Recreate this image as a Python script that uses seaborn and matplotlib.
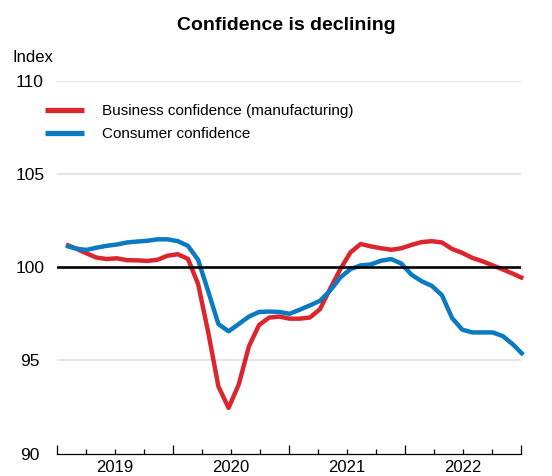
import numpy as np
import pandas as pd
import matplotlib
matplotlib.use("Agg")
import matplotlib.pyplot as plt
import seaborn as sns
from matplotlib.ticker import FixedLocator, FixedFormatter, NullFormatter

# ---- data ----
business = [101.22, 101.0, 100.75, 100.52, 100.44, 100.48, 100.38, 100.37, 100.34, 100.4,
            100.62, 100.7, 100.45, 99.1, 96.5, 93.6, 92.45, 93.7, 95.75, 96.9,
            97.3, 97.35, 97.24, 97.24, 97.3, 97.75, 98.85, 99.9, 100.8, 101.25,
            101.12, 101.02, 100.94, 101.02, 101.2, 101.35, 101.4, 101.33, 100.98, 100.77,
            100.5, 100.32, 100.1, 99.88, 99.65, 99.4]
consumer = [101.15, 101.0, 100.93, 101.05, 101.15, 101.22, 101.33, 101.38, 101.42, 101.5,
            101.5, 101.4, 101.15, 100.4, 98.7, 96.95, 96.56, 96.95, 97.35, 97.6,
            97.62, 97.6, 97.5, 97.72, 97.95, 98.2, 98.75, 99.45, 99.9, 100.1,
            100.15, 100.35, 100.44, 100.2, 99.6, 99.25, 99.0, 98.5, 97.27, 96.65,
            96.5, 96.5, 96.5, 96.3, 95.85, 95.3]
period = list(range(len(business)))
series_names = ["Business confidence (manufacturing)", "Consumer confidence"]
year_labels = ["2019", "2020", "2021", "2022"]
y_ticks = [90, 95, 100, 105, 110]

df = pd.DataFrame({
    "period": period * 2,
    "value": business + consumer,
    "series": [series_names[0]] * len(business) + [series_names[1]] * len(consumer),
})

# ---- style ----
sns.set_style("white")
plt.rcParams["font.family"] = ["Liberation Sans", "DejaVu Sans"]
plt.rcParams["text.color"] = "black"
plt.rcParams["axes.labelcolor"] = "black"
plt.rcParams["xtick.color"] = "black"
plt.rcParams["ytick.color"] = "black"

RED = "#DC262E"
BLUE = "#0A7AC2"

fig = plt.figure(figsize=(5.52, 4.76), dpi=100)
ax = fig.add_axes([57 / 552, (476 - 453.5) / 476, 464 / 552, 372.5 / 476])

sns.lineplot(data=df, x="period", y="value", hue="series", hue_order=series_names,
             palette=[RED, BLUE], linewidth=3.2, ax=ax, legend=True)
for ln in ax.get_lines():
    ln.set_clip_on(False)
    ln.set_solid_capstyle("butt")
    ln.set_solid_joinstyle("round")

# x-axis geometry: year boundaries
x0, x1 = -0.886, 44.78
ystep = (x1 - x0) / 4
year_edges = [x0 + k * ystep for k in range(5)]
quarters = [x0 + q * ystep / 4 for q in range(17) if q % 4 != 0]
ax.set_xlim(x0, x1)
ax.set_ylim(90, 110)

ax.xaxis.set_major_locator(FixedLocator(year_edges))
ax.xaxis.set_major_formatter(NullFormatter())
ax.xaxis.set_minor_locator(FixedLocator(quarters))
minor_labels = []
for q in range(17):
    if q % 4 == 0:
        continue
    minor_labels.append(year_labels[q // 4] if q % 4 == 2 else "")
ax.xaxis.set_minor_formatter(FixedFormatter(minor_labels))
ax.tick_params(axis="x", which="major", direction="in", length=6.5, width=0.9,
               color="black", bottom=True)
ax.tick_params(axis="x", which="minor", direction="in", length=3.6, width=0.9,
               color="black", bottom=True, labelsize=12, pad=4.5, labelcolor="black")

ax.set_yticks(y_ticks)
ax.set_yticklabels([str(v) for v in y_ticks])
for lab in ax.get_yticklabels():
    lab.set_horizontalalignment("center")
ax.tick_params(axis="y", length=0, labelsize=12.5, pad=19.4, labelcolor="black")

for v in y_ticks:
    if v in (95, 105, 110):
        ax.axhline(v, color="#E4E4E4", linewidth=1.4, zorder=0)
ax.axhline(100, color="black", linewidth=1.9, zorder=5)

for s in ["left", "right", "top"]:
    ax.spines[s].set_visible(False)
ax.spines["bottom"].set_color("black")
ax.spines["bottom"].set_linewidth(0.9)
ax.set_xlabel("")
ax.set_ylabel("")
ax.grid(False)

handles, labels = ax.get_legend_handles_labels()
ax.get_legend().remove()
leg = fig.legend(handles, labels, loc="upper left",
                 bbox_to_anchor=(45 / 552, 1 - 104 / 476), frameon=False,
                 fontsize=11, handlelength=2.55, handletextpad=1.15,
                 labelspacing=0.62, borderpad=0, borderaxespad=0)
for t in leg.get_texts():
    t.set_color("black")
for h in leg.get_lines():
    h.set_linewidth(3.8)
    h.set_solid_capstyle("butt")

fig.text(286.5 / 552, 1 - 26 / 476, "Confidence is declining", ha="center", va="center",
         fontsize=14, fontweight="bold", color="black")
fig.text(12 / 552, 1 - 58 / 476, "Index", ha="left", va="center", fontsize=12,
         color="black")

fig.savefig("out.png", dpi=100)
